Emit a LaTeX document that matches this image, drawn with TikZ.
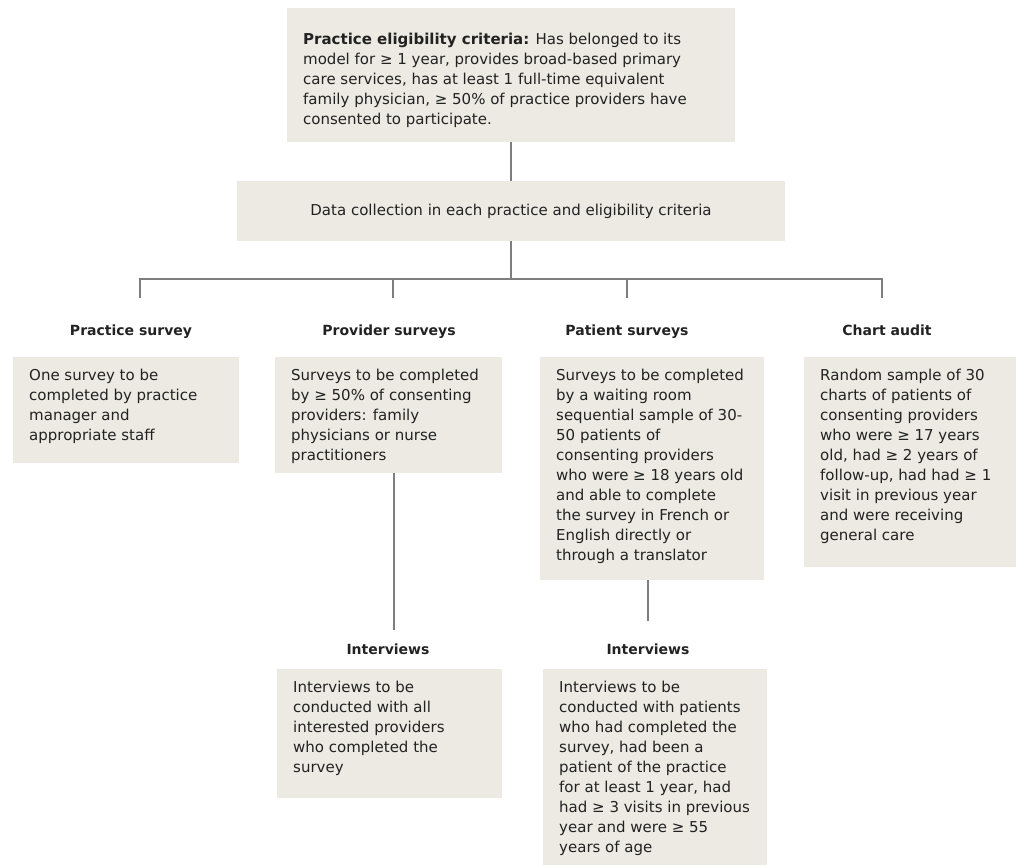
\documentclass[tikz,border=0pt]{standalone}
\usepackage{fontspec}
\setmainfont{DejaVu Sans}
\usepackage{tikz}
\usepackage{xcolor}
\usetikzlibrary{positioning,calc}
\definecolor{panelfill}{HTML}{ECEAE2}
\definecolor{rulegray}{HTML}{7E7E7E}
\definecolor{ink}{HTML}{222222}
\newcommand{\panelbody}[4][23pt]{\parbox[c][#3][t]{#2}{\raggedright\rule{0pt}{#1}#4}}
\tikzset{
  panel/.style={fill=panelfill,anchor=north west,inner xsep=16pt,inner ysep=0pt,
                text=ink,font=\fontsize{15}{20}\selectfont},
  midpanel/.style={fill=panelfill,minimum width=548pt,minimum height=60pt,
                   inner sep=0pt,text=ink,font=\fontsize{15}{20}\selectfont},
  heading/.style={text=ink,font=\fontsize{14}{20}\selectfont\bfseries,inner sep=0pt,anchor=base},
  link/.style={draw=rulegray,line width=1.6pt}
}

\begin{document}
\begin{tikzpicture}[x=1pt,y=-1pt]
  \useasboundingbox (0,0) rectangle (1016,865);
  \node[panel] (crit) at (287,8) {\panelbody[36pt]{416pt}{134pt}{%
    \textbf{Practice eligibility criteria:} Has belonged to its\\
    model for ≥ 1 year, provides broad-based primary\\
    care services, has at least 1 full-time equivalent\\
    family physician, ≥ 50\% of practice providers have\\
    consented to participate.}};
  \node[midpanel] (collect) at (511,211) {Data collection in each practice and eligibility criteria};
  \draw[link] (crit.south -| collect) -- (collect.north);

  \coordinate (bus) at (511,279);
  \coordinate (tick1) at (140,298);
  \coordinate (tick2) at (393,298);
  \coordinate (tick3) at (627,298);
  \coordinate (tick4) at (882,298);
  \draw[link] (collect.south) -- (bus);
  \draw[link] (tick1) -- (tick1 |- bus) -- (tick4 |- bus) -- (tick4);
  \draw[link] (tick2 |- bus) -- (tick2);
  \draw[link] (tick3 |- bus) -- (tick3);

  \node[heading] (hprac) at (131,335) {Practice survey};
  \node[heading] (hprov) at (389,335) {Provider surveys};
  \node[heading] (hpat) at (627,335) {Patient surveys};
  \node[heading] (hchart) at (887,335) {Chart audit};

  \node[panel] (prac) at (13,357) {\panelbody{194pt}{106pt}{%
    One survey to be\\
    completed by practice\\
    manager and\\
    appropriate staff}};
  \node[panel] (prov) at (275,357) {\panelbody{195pt}{116pt}{%
    Surveys to be completed\\
    by ≥ 50\% of consenting\\
    providers: family\\
    physicians or nurse\\
    practitioners}};
  \node[panel] (pat) at (540,357) {\panelbody{192pt}{223pt}{%
    Surveys to be completed\\
    by a waiting room\\
    sequential sample of 30-\\
    50 patients of\\
    consenting providers\\
    who were ≥ 18 years old\\
    and able to complete\\
    the survey in French or\\
    English directly or\\
    through a translator}};
  \node[panel] (chart) at (804,357) {\panelbody{180pt}{210pt}{%
    Random sample of 30\\
    charts of patients of\\
    consenting providers\\
    who were ≥ 17 years\\
    old, had ≥ 2 years of\\
    follow-up, had had ≥ 1\\
    visit in previous year\\
    and were receiving\\
    general care}};

  \coordinate (drop1) at (394,630);
  \coordinate (drop2) at (648,621);
  \draw[link] (prov.south -| drop1) -- (drop1);
  \draw[link] (pat.south -| drop2) -- (drop2);

  \node[heading] (hint1) at (388,654) {Interviews};
  \node[heading] (hint2) at (648,654) {Interviews};

  \node[panel] (int1) at (277,669) {\panelbody{193pt}{129pt}{%
    Interviews to be\\
    conducted with all\\
    interested providers\\
    who completed the\\
    survey}};
  \node[panel] (int2) at (543,669) {\panelbody{192pt}{196pt}{%
    Interviews to be\\
    conducted with patients\\
    who had completed the\\
    survey, had been a\\
    patient of the practice\\
    for at least 1 year, had\\
    had ≥ 3 visits in previous\\
    year and were ≥ 55\\
    years of age}};
\end{tikzpicture}
\end{document}
